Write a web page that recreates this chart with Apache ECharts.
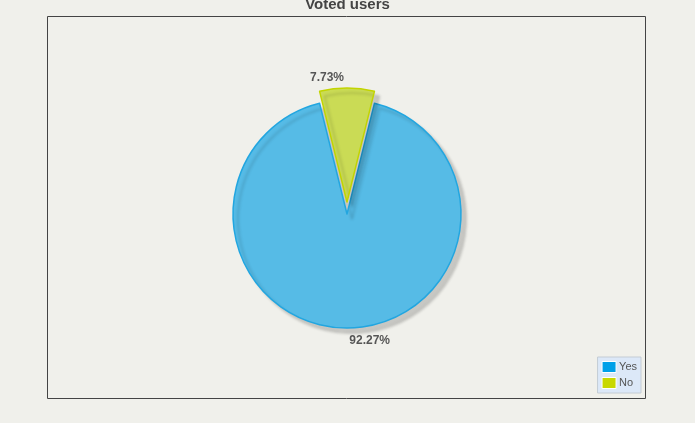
<!DOCTYPE html>
<html><head><meta charset="utf-8">
<script src="https://cdn.jsdelivr.net/npm/echarts@6/dist/echarts.min.js"></script>
<style>html,body{margin:0;padding:0;background:#f0f0eb}#c{width:695px;height:423px}</style>
</head><body><div id="c"></div>
<script>
const categories = ['Yes', 'No'];
const values = [92.27, 7.73];
const fills = ['#56bbe6', '#cadb55'];
const strokes = ['#22a6e0', '#c2d400'];
const legendColors = ['#00a0e8', '#c8d800'];
const labelShift = [[43, 9], [-37, -6]];

const chart = echarts.init(document.getElementById('c'));
chart.setOption({
  backgroundColor: '#f0f0eb',
  animation: false,
  title: {
    text: 'Voted users', left: 'center', top: -8,
    textStyle: { fontFamily: 'Liberation Sans, Arial', fontSize: 15, fontWeight: 'bold', color: '#444' }
  },
  graphic: [{
    type: 'rect', z: -1,
    shape: { x: 47.5, y: 16.5, width: 598, height: 382 },
    style: { fill: 'none', stroke: '#444', lineWidth: 1 }
  }],
  legend: {
    orient: 'vertical', right: 54, bottom: 30,
    backgroundColor: '#dce8f8', borderColor: '#c4ccd4', borderWidth: 1,
    padding: [4, 4, 4, 4], itemGap: 4, itemWidth: 14, itemHeight: 11,
    icon: 'rect',
    data: categories.map((c, i) => ({ name: c, itemStyle: { color: legendColors[i], borderColor: '#fff', borderWidth: 1 } })),
    textStyle: { fontFamily: 'Liberation Sans, Arial', fontSize: 11, color: '#555', padding: [0, 0, 0, -2] }
  },
  series: [{
    type: 'pie',
    center: [347, 214],
    radius: 114,
    startAngle: 76.08,
    clockwise: true,
    selectedMode: 'single',
    selectedOffset: 12,
    avoidLabelOverlap: false,
    label: {
      show: true, position: 'outside', distanceToLabelLine: 0,
      formatter: p => p.value.toFixed(2) + '%',
      fontFamily: 'Liberation Sans, Arial', fontSize: 12, fontWeight: 'bold', color: '#555'
    },
    labelLine: { show: false, length: 4, length2: 0 },
    labelLayout: p => ({ dx: labelShift[p.dataIndex][0], dy: labelShift[p.dataIndex][1] }),
    emphasis: { disabled: true },
    data: categories.map((c, i) => ({
      name: c, value: values[i], selected: i === 1,
      itemStyle: {
        color: fills[i], borderColor: strokes[i], borderWidth: 1.5,
        shadowBlur: 3, shadowOffsetX: 5, shadowOffsetY: 5, shadowColor: 'rgba(0,0,0,0.17)'
      }
    }))
  }]
});
</script></body></html>
